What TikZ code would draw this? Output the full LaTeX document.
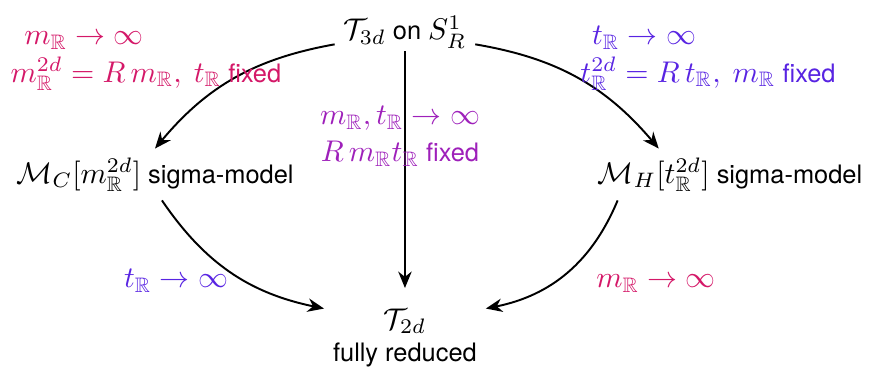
\documentclass[tikz,border=0pt]{standalone}
\usepackage{amsmath,amssymb}
\usepackage{fontspec}
\setmainfont{TeX Gyre Heros}[Scale=0.85]
\usepackage{tikz}
\usetikzlibrary{arrows.meta}
\definecolor{mPink}{RGB}{212,24,104}
\definecolor{mBlue}{RGB}{88,36,226}
\definecolor{mPurple}{RGB}{158,32,186}
\newcommand{\RR}{\mathbb{R}}

\begin{document}
\begin{tikzpicture}[arr/.style={-{Stealth[length=5.5pt,width=4.5pt]},line width=0.65pt},
    lbl/.style={anchor=base,inner sep=0pt}]
  \useasboundingbox (0,0) rectangle (10.25,4.314);
  % theories
  \node[anchor=base] (top) at (4.76,3.844) {$\mathcal{T}_{3d}$ on $S^1_R$};
  \node[anchor=base] (mc) at (1.822,2.163) {$\mathcal{M}_C[m^{2d}_{\RR}]$ sigma-model};
  \node[anchor=base] (mh) at (8.581,2.163) {$\mathcal{M}_H[t^{2d}_{\RR}]$ sigma-model};
  \node[align=center] (bot) at (4.76,0.341) {$\mathcal{T}_{2d}$\\[-1.3pt] fully reduced};
  % limits
  \draw[arr] (top.190) to[bend right=20] (mc.north);
  \draw[arr] (top.350) to[bend left=20] (mh.160);
  \draw[arr, shorten >=4pt, shorten <=-2pt] (top) -- (bot);
  \draw[arr] (mc.-75) to[bend right=22] (bot.160);
  \draw[arr] (mh.193) to[bend left=28] (bot.20);
  % labels
  \node[lbl, mPink] (lm1) at (0.987,3.79) {$m_{\RR}\to\infty$};
  \node[lbl, mPink] (lm2) at (1.716,3.350) {$m^{2d}_{\RR}=R\,m_{\RR},\ t_{\RR}$ fixed};
  \node[lbl, mBlue] (rt1) at (7.570,3.79) {$t_{\RR}\to\infty$};
  \node[lbl, mBlue] (rt2) at (8.322,3.350) {$t^{2d}_{\RR}=R\,t_{\RR},\ m_{\RR}$ fixed};
  \node[lbl, mPurple] (md1) at (4.702,2.845) {$m_{\RR},t_{\RR}\to\infty$};
  \node[lbl, mPurple] (md2) at (4.702,2.410) {$R\,m_{\RR}t_{\RR}$ fixed};
  \node[lbl, mBlue] (bt) at (2.069,0.929) {$t_{\RR}\to\infty$};
  \node[lbl, mPink] (bm) at (7.711,0.929) {$m_{\RR}\to\infty$};
\end{tikzpicture}
\end{document}
